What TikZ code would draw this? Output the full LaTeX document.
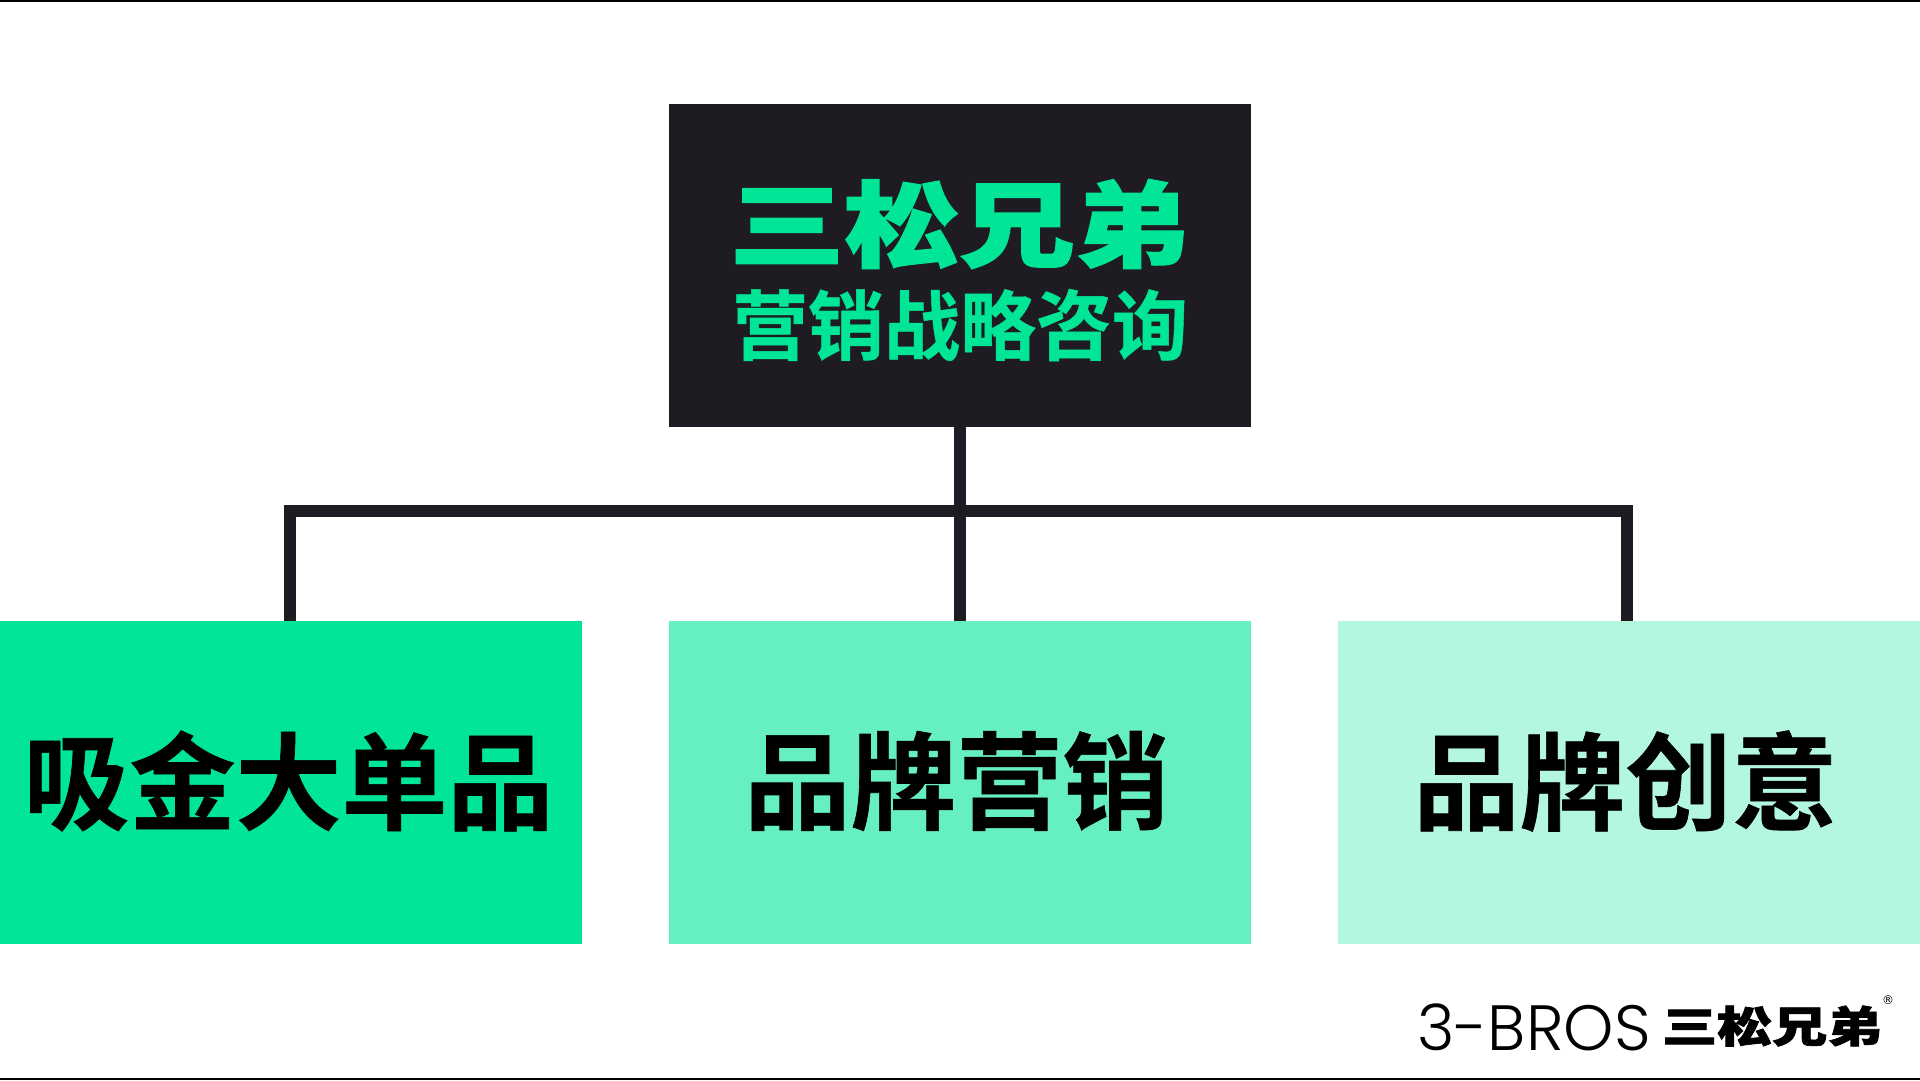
\documentclass[tikz,border=0pt]{standalone}
\usepackage{fontspec}
\setmainfont{Poppins Light}
\newfontfamily\cjk[FakeBold=0.6]{Noto Sans CJK SC Bold}
\newfontfamily\cjklogo[FakeBold=1.5]{Noto Sans CJK SC Black}
\newfontfamily\regfont{DejaVu Sans}
\usetikzlibrary{positioning}
\definecolor{inkdark}{HTML}{1E1C22}
\definecolor{mintfull}{HTML}{00E696}
\definecolor{mintmid}{HTML}{66F0C0}
\definecolor{mintpale}{HTML}{B3F7DF}

\begin{document}
\begin{tikzpicture}[x=1pt,y=-1pt,
	box/.style={rectangle,minimum width=582pt,minimum height=323pt,inner sep=0pt,outer sep=0pt},
	branch/.style={draw=inkdark,line width=11.5pt},
	rule/.style={draw=black,line width=2pt},
	boxlabel/.style={font={\cjk\fontsize{106}{110}\selectfont},text=black,inner sep=0pt}]

	\useasboundingbox (0,0) rectangle (1920,1080);
	\fill[white] (0,0) rectangle (1920,1080);

	\node[box,fill=inkdark] at (960,265.5) (top) {};
	\node[font={\cjklogo\fontsize{115}{120}\selectfont},text=mintfull,yscale=.815,transform shape] at (959.5,224) (brand) {三松兄弟};
	\node[font={\cjk\fontsize{76}{80}\selectfont},text=mintfull] at (960,325) (sub) {营销战略咨询};

	\node[box,fill=mintfull] at (291,782) (left) {};
	\node[box,fill=mintmid] at (960,782) (mid) {};
	\node[box,fill=mintpale] at (1629,782) (right) {};
	\node[boxlabel] at (288.5,781) (leftlabel) {吸金大单品};
	\node[boxlabel] at (956.5,781) (midlabel) {品牌营销};
	\node[boxlabel] at (1625.5,781) (rightlabel) {品牌创意};

	\coordinate (busl) at (290,511);
	\coordinate (busr) at (1627,511);

	\draw[branch] (top.south) -- (mid.north);
	\draw[branch] (290,621) -- (busl) -- (busr) -- (1627,621);

	% footer
	\node[anchor=west,inner sep=0pt,font=\fontsize{64}{70}\selectfont] at (1417,1027) (word) {3-BROS};
	\node[anchor=west,inner sep=0pt,font={\cjklogo\fontsize{55}{60}\selectfont},yscale=.78,transform shape] at (1662,1026) (mark) {三松兄弟};
	\node[inner sep=0pt,font={\regfont\fontsize{12}{13}\selectfont}] at (1888,1000) (reg) {®};

	\coordinate (ruleal) at (0,0.5);
	\coordinate (rulear) at (1920,0.5);
	\coordinate (rulebl) at (0,1079);
	\coordinate (rulebr) at (1920,1079);
	\draw[rule] (ruleal) -- (rulear);
	\draw[rule] (rulebl) -- (rulebr);
\end{tikzpicture}
\end{document}
